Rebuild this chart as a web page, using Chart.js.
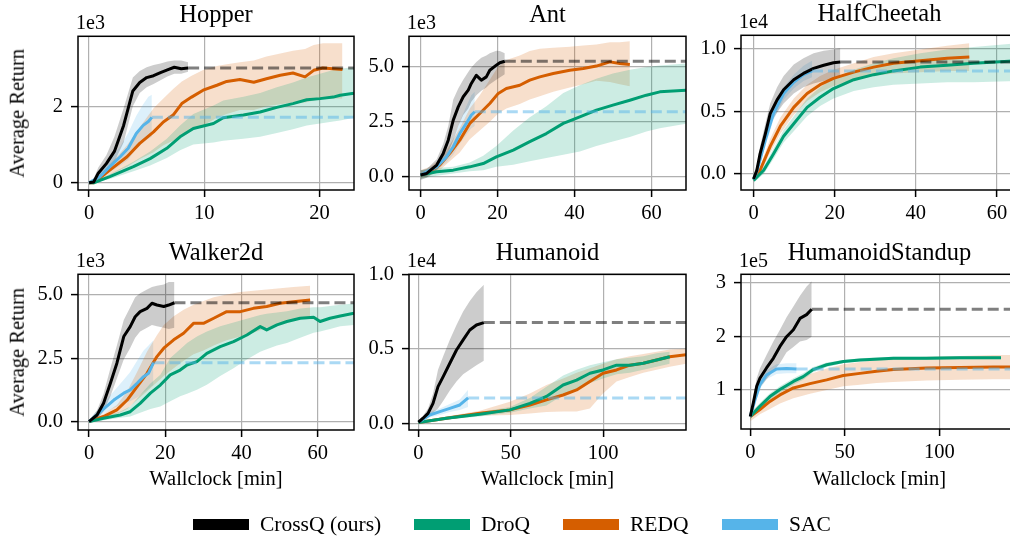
<!DOCTYPE html>
<html>
<head>
<meta charset="utf-8">
<script src="https://cdn.jsdelivr.net/npm/chart.js@4.4.1/dist/chart.umd.min.js"></script>
<style>
  html, body { margin: 0; padding: 0; background: #fff; }
  body { width: 1010px; height: 537px; position: relative; overflow: hidden;
         font-family: 'Liberation Serif', 'Times New Roman', serif; color: #000; }
  .txt { position: absolute; white-space: nowrap; line-height: 1; }
  .patch { position: absolute; width: 56px; height: 11px; }
</style>
</head>
<body>
<script>
// rows: [wallclock min, mean, lower, upper]  (y in the units shown by the offset label)
const hopperCrossQ = [[0,0,0,0.05],[0.4,0.02,0,0.1],[0.8,0.25,0.12,0.4],[1.5,0.5,0.32,0.72],[2.2,0.82,0.55,1.2],[3.0,1.5,1.05,1.95],[3.8,2.4,2.0,2.75],[4.4,2.62,2.35,2.92],[5.0,2.75,2.5,3.02],[5.6,2.8,2.58,3.08],[6.2,2.88,2.68,3.12],[6.8,2.95,2.78,3.17],[7.4,3.02,2.85,3.2],[8.0,2.98,2.85,3.2],[8.6,3.0,2.9,3.15]];
const hopperDroQ = [[0,0,0,0],[0.4,0,0,0.02],[1.8,0.16,0.1,0.22],[3.85,0.42,0.3,0.55],[5.3,0.63,0.45,0.82],[6.75,0.9,0.65,1.15],[7.9,1.2,0.85,1.5],[9.05,1.42,1.0,1.8],[10.8,1.55,1.05,2.02],[11.65,1.7,1.1,2.15],[13.4,1.77,1.15,2.25],[14.85,1.85,1.2,2.35],[16.3,1.97,1.3,2.5],[17.7,2.07,1.4,2.62],[18.9,2.17,1.5,2.75],[20.05,2.2,1.55,2.85],[21.2,2.24,1.6,2.95],[21.8,2.29,1.63,2.98],[23.0,2.34,1.7,3.03]];
const hopperREDQ = [[0,0,0,0],[0.4,0,0,0.02],[1.8,0.33,0.2,0.48],[3.3,0.68,0.42,0.98],[4.4,1.03,0.62,1.45],[5.6,1.33,0.8,1.95],[6.45,1.59,0.98,2.2],[7.3,1.77,1.1,2.45],[8.05,2.07,1.25,2.65],[8.9,2.24,1.35,2.8],[9.9,2.42,1.5,2.95],[11.1,2.55,1.7,3.05],[11.95,2.65,1.8,3.1],[13.1,2.7,1.9,3.15],[14.3,2.63,1.9,3.2],[15.4,2.72,2.0,3.3],[16.6,2.81,2.05,3.38],[17.7,2.87,2.1,3.45],[18.75,2.77,2.1,3.5],[19.5,2.94,2.15,3.6],[20.3,3.0,2.2,3.65],[22.0,2.96,2.2,3.65]];
const hopperSAC = [[0,0,0,0],[0.95,0.16,0.08,0.25],[1.8,0.42,0.28,0.6],[2.7,0.68,0.45,0.95],[3.4,0.9,0.6,1.3],[4.1,1.29,0.9,1.75],[4.7,1.5,1.05,2.05],[5.15,1.6,1.15,2.25],[5.45,1.71,1.2,2.3]];

const antCrossQ = [[0,0.08,-0.15,0.3],[1.6,0.15,-0.05,0.35],[4.2,0.53,0.3,0.8],[5.9,1.06,0.65,1.5],[7.2,1.66,1.1,2.3],[8.5,2.57,1.66,3.5],[9.8,3.17,2.3,4.0],[11.1,3.63,2.8,4.4],[12.4,3.93,3.1,4.75],[13.2,4.23,3.4,4.95],[14.5,4.6,3.7,5.2],[15.8,4.38,3.9,5.4],[17.1,4.53,4.05,5.5],[18.0,4.83,4.2,5.6],[19.7,5.06,4.4,5.72],[20.6,5.17,4.5,5.7],[21.9,5.24,4.65,5.6]];
const antDroQ = [[0,0.08,-0.1,0.3],[4.2,0.23,0.05,0.4],[8.5,0.3,0.15,0.45],[12.8,0.45,0.25,0.65],[16.3,0.6,0.3,0.95],[19.7,0.9,0.45,1.4],[24.1,1.21,0.55,2.1],[28.4,1.59,0.7,2.7],[32.7,1.96,0.85,3.2],[37.1,2.42,1.0,3.8],[41.4,2.72,1.15,4.15],[45.7,3.02,1.4,4.45],[50.0,3.25,1.6,4.68],[54.4,3.47,1.8,4.85],[58.7,3.7,2.05,4.98],[62.2,3.85,2.2,5.05],[69.0,3.92,2.4,5.14]];
const antREDQ = [[0,0.08,-0.1,0.3],[2.4,0.23,0.05,0.45],[5.0,0.53,0.3,0.8],[7.6,1.06,0.7,1.45],[10.2,1.66,1.1,2.2],[12.8,2.42,1.7,3.1],[15.4,2.87,2.1,3.7],[18.0,3.32,2.5,4.4],[20.2,3.78,2.87,5.0],[22.3,4.0,3.1,5.3],[25.8,4.15,3.3,5.5],[28.4,4.38,3.5,5.7],[31.0,4.53,3.65,5.8],[34.5,4.68,3.85,5.85],[38.8,4.83,4.05,5.9],[42.3,4.91,4.2,5.95],[45.7,5.02,4.35,6.0],[49.2,5.21,4.3,6.1],[51.8,5.14,4.2,6.1],[54.4,5.09,4.1,6.15]];
const antSAC = [[0,0.08,-0.1,0.25],[4.2,0.45,0.3,0.6],[6.75,0.9,0.65,1.15],[8.5,1.36,1.0,1.7],[10.2,1.96,1.5,2.5],[11.9,2.42,1.9,3.2],[13.2,2.8,2.2,3.7],[14.1,2.95,2.3,3.85]];

const cheetahCrossQ = [[0,-0.04,-0.06,-0.02],[0.8,0.03,0.0,0.07],[1.6,0.16,0.1,0.22],[2.9,0.32,0.24,0.4],[4.1,0.48,0.4,0.56],[5.8,0.59,0.49,0.69],[7.4,0.67,0.56,0.78],[9.9,0.75,0.64,0.87],[12.3,0.8,0.69,0.92],[14.8,0.84,0.72,0.96],[17.3,0.865,0.74,0.98],[19.7,0.885,0.76,0.99],[21.4,0.89,0.77,1.0]];
const cheetahDroQ = [[0,-0.05,-0.07,-0.03],[2.5,0.03,0.0,0.06],[4.9,0.16,0.12,0.2],[7.4,0.3,0.25,0.35],[9.9,0.4,0.34,0.46],[13.2,0.53,0.46,0.6],[16.4,0.61,0.54,0.69],[19.7,0.68,0.6,0.76],[24.7,0.75,0.66,0.83],[29.6,0.79,0.69,0.88],[34.5,0.82,0.71,0.92],[41.1,0.85,0.72,0.96],[47.7,0.865,0.73,0.99],[54.3,0.88,0.73,1.01],[65.0,0.9,0.74,1.04]];
const cheetahREDQ = [[0,-0.04,-0.06,-0.02],[1.6,0.03,0.0,0.06],[4.1,0.22,0.17,0.28],[6.6,0.38,0.32,0.45],[9.9,0.53,0.47,0.6],[13.2,0.64,0.58,0.71],[16.4,0.71,0.65,0.78],[19.7,0.76,0.7,0.83],[24.7,0.81,0.75,0.88],[29.6,0.85,0.78,0.93],[34.5,0.88,0.8,0.96],[41.1,0.9,0.81,0.99],[47.7,0.92,0.82,1.02],[53.2,0.93,0.82,1.04]];
const cheetahSAC = [[0,-0.04,-0.06,-0.02],[0.8,0.02,0.0,0.05],[2.9,0.27,0.22,0.32],[4.9,0.48,0.43,0.53],[7.4,0.64,0.59,0.69],[9.9,0.73,0.68,0.79],[12.3,0.79,0.74,0.86],[14.4,0.82,0.77,0.9]];

const walkerCrossQ = [[0,0,-0.05,0.05],[2.1,0.26,0.1,0.45],[3.8,0.72,0.4,1.1],[5.6,1.51,1.0,2.1],[7.3,2.3,1.7,3.0],[9.1,3.35,2.45,4.0],[10.8,3.74,2.9,4.5],[12.1,4.13,3.3,4.9],[13.4,4.33,3.55,5.05],[15.2,4.46,3.7,5.2],[16.5,4.66,3.8,5.3],[17.8,4.59,3.75,5.35],[19.6,4.53,3.7,5.4],[20.9,4.59,3.65,5.5],[22.4,4.68,3.7,5.5]];
const walkerDroQ = [[0,0,-0.05,0.05],[3.8,0.13,0.05,0.2],[8.2,0.26,0.15,0.4],[10.8,0.39,0.2,0.6],[13.4,0.72,0.35,1.05],[16.1,1.12,0.5,1.5],[18.7,1.44,0.6,1.85],[21.3,1.84,0.8,2.5],[23.9,2.03,1.0,2.85],[25.7,2.23,1.1,3.1],[28.3,2.36,1.25,3.35],[30.9,2.69,1.45,3.55],[34.4,2.95,1.8,3.75],[37.9,3.15,2.1,3.9],[41.4,3.41,2.45,4.05],[44.9,3.74,2.75,4.2],[46.6,3.61,2.85,4.25],[49.3,3.81,3.0,4.3],[51.9,3.94,3.1,4.35],[55.4,4.07,3.3,4.45],[58.9,4.11,3.5,4.5],[60.6,3.94,3.55,4.5],[63.2,4.07,3.65,4.55],[65.9,4.16,3.75,4.6],[69.5,4.27,3.8,4.65]];
const walkerREDQ = [[0,0,-0.05,0.05],[3.8,0.2,0.1,0.3],[7.3,0.46,0.3,0.65],[10.0,0.85,0.5,1.2],[12.6,1.38,0.85,1.95],[15.2,1.9,1.2,2.75],[17.8,2.56,1.55,3.4],[19.6,2.89,1.8,3.8],[22.2,3.22,2.1,4.15],[24.8,3.48,2.4,4.4],[27.4,3.87,2.65,4.6],[30.0,3.87,2.8,4.75],[32.7,4.07,3.0,4.9],[36.1,4.33,3.2,5.0],[39.7,4.33,3.35,5.1],[43.1,4.46,3.5,5.15],[46.6,4.53,3.7,5.2],[50.1,4.66,3.85,5.25],[53.6,4.72,4.0,5.3],[58.0,4.79,4.15,5.35]];
const walkerSAC = [[0,0,-0.05,0.05],[3.0,0.39,0.25,0.6],[6.5,0.85,0.55,1.2],[9.1,1.12,0.7,1.65],[10.8,1.25,0.8,1.95],[12.6,1.51,0.95,2.4],[14.3,1.77,1.15,2.8],[15.6,1.9,1.3,3.0],[16.9,2.32,1.45,3.2]];

const humanoidCrossQ = [[0,0.007,0.0,0.015],[2.5,0.034,0.02,0.05],[5.2,0.067,0.04,0.1],[7.9,0.134,0.07,0.2],[10.6,0.246,0.1,0.36],[13.4,0.313,0.15,0.45],[17.0,0.403,0.22,0.56],[20.6,0.492,0.28,0.66],[24.2,0.56,0.33,0.75],[27.8,0.626,0.36,0.82],[31.4,0.66,0.39,0.88],[35.4,0.676,0.42,0.93]];
const humanoidDroQ = [[0,0.005,0.0,0.01],[15.2,0.034,0.025,0.045],[33.2,0.06,0.045,0.075],[49.5,0.09,0.07,0.11],[60.3,0.134,0.1,0.17],[69.3,0.18,0.12,0.246],[78.3,0.257,0.19,0.32],[85.6,0.29,0.23,0.36],[92.8,0.336,0.27,0.39],[99.9,0.358,0.3,0.41],[107.2,0.39,0.33,0.43],[114.4,0.39,0.34,0.44],[121.7,0.403,0.36,0.45],[128.9,0.425,0.38,0.47],[136.0,0.447,0.4,0.48]];
const humanoidREDQ = [[0,0.005,0.0,0.01],[15.2,0.034,0.025,0.045],[33.2,0.067,0.05,0.085],[49.5,0.09,0.056,0.145],[60.3,0.123,0.065,0.2],[69.3,0.157,0.075,0.257],[78.3,0.19,0.08,0.3],[85.6,0.224,0.08,0.34],[92.8,0.28,0.1,0.37],[99.9,0.336,0.2,0.4],[107.2,0.358,0.28,0.43],[114.4,0.39,0.31,0.45],[121.7,0.403,0.34,0.465],[128.9,0.425,0.36,0.48],[136.0,0.447,0.38,0.495],[144.8,0.46,0.4,0.5]];
const humanoidSAC = [[0,0.007,0.0,0.015],[6.1,0.056,0.04,0.075],[11.6,0.078,0.055,0.1],[17.0,0.1,0.075,0.13],[22.4,0.123,0.09,0.16],[26.9,0.17,0.11,0.225]];

const standupCrossQ = [[0,0.51,0.45,0.57],[1.6,0.76,0.65,0.87],[3.4,1.07,0.9,1.22],[5.1,1.22,1.05,1.4],[8.6,1.41,1.2,1.65],[12.2,1.59,1.35,1.9],[15.7,1.81,1.5,2.12],[19.2,1.99,1.7,2.35],[22.8,2.12,1.8,2.55],[26.3,2.33,1.9,2.75],[29.8,2.4,1.93,2.92],[32.5,2.5,1.99,3.02]];
const standupDroQ = [[0,0.51,0.46,0.56],[5.1,0.7,0.64,0.76],[10.4,0.88,0.82,0.94],[15.7,1.01,0.95,1.07],[22.8,1.16,1.1,1.22],[28.0,1.25,1.19,1.31],[33.3,1.38,1.33,1.43],[40.4,1.47,1.43,1.51],[49.2,1.53,1.5,1.56],[58.0,1.56,1.53,1.59],[75.7,1.59,1.56,1.62],[93.3,1.59,1.56,1.62],[110.9,1.6,1.57,1.63],[132.6,1.6,1.57,1.63]];
const standupREDQ = [[0,0.51,0.42,0.6],[5.1,0.64,0.55,0.74],[10.4,0.79,0.65,0.92],[15.7,0.91,0.75,1.05],[22.8,1.04,0.85,1.17],[31.6,1.12,0.93,1.3],[40.4,1.19,1.0,1.4],[49.2,1.27,1.07,1.48],[58.0,1.31,1.1,1.52],[66.8,1.35,1.13,1.56],[75.7,1.38,1.15,1.6],[93.3,1.41,1.18,1.62],[110.9,1.42,1.19,1.63],[128.6,1.43,1.2,1.65],[141.6,1.43,1.2,1.65]];
const standupSAC = [[0,0.51,0.47,0.55],[2.5,0.82,0.75,0.89],[5.1,1.1,1.02,1.18],[8.6,1.28,1.2,1.37],[13.9,1.39,1.3,1.48],[19.2,1.4,1.31,1.5],[24.5,1.39,1.31,1.5]];

// tick values per panel
const hopperXTicks = [0, 10, 20],   hopperYTicks = [0, 2];
const antXTicks = [0, 20, 40, 60],  antYTicks = [0, 2.5, 5];
const cheetahXTicks = [0, 20, 40, 60], cheetahYTicks = [0, 0.5, 1];
const walkerXTicks = [0, 20, 40, 60],  walkerYTicks = [0, 2.5, 5];
const humanoidXTicks = [0, 50, 100],   humanoidYTicks = [0, 0.5, 1];
const standupXTicks = [0, 50, 100],    standupYTicks = [1, 2, 3];

const algoNames = ['CrossQ (ours)', 'DroQ', 'REDQ', 'SAC'];
const algoColors = ['#000000', '#009E73', '#D55E00', '#56B4E9'];

// layout: plot box [left, top, right, bottom] in page px, axis limits
const panels = [
  { title: 'Hopper', unit: '1e3', box: [78, 36, 354, 190], xlim: [-0.96, 23.0], ylim: [-0.19, 3.83], dec: 0,
    xt: hopperXTicks, yt: hopperYTicks, series: [hopperCrossQ, hopperDroQ, hopperREDQ, hopperSAC], ylabel: true, xlabel: false },
  { title: 'Ant', unit: '1e3', box: [409, 36, 686, 190], xlim: [-3.0, 69.0], ylim: [-0.60, 6.37], dec: 1,
    xt: antXTicks, yt: antYTicks, series: [antCrossQ, antDroQ, antREDQ, antSAC], ylabel: false, xlabel: false },
  { title: 'HalfCheetah', unit: '1e4', box: [741, 35, 1018, 190], xlim: [-3.1, 65.2], ylim: [-0.127, 1.103], dec: 1,
    xt: cheetahXTicks, yt: cheetahYTicks, series: [cheetahCrossQ, cheetahDroQ, cheetahREDQ, cheetahSAC], ylabel: false, xlabel: false },
  { title: 'Walker2d', unit: '1e3', box: [78, 274, 354, 430], xlim: [-2.9, 69.5], ylim: [-0.33, 5.80], dec: 1,
    xt: walkerXTicks, yt: walkerYTicks, series: [walkerCrossQ, walkerDroQ, walkerREDQ, walkerSAC], ylabel: true, xlabel: true },
  { title: 'Humanoid', unit: '1e4', box: [409, 274, 686, 430], xlim: [-5.1, 144.8], ylim: [-0.045, 1.0], dec: 1,
    xt: humanoidXTicks, yt: humanoidYTicks, series: [humanoidCrossQ, humanoidDroQ, humanoidREDQ, humanoidSAC], ylabel: false, xlabel: true },
  { title: 'HumanoidStandup', unit: '1e5', box: [741, 274, 1018, 429], xlim: [-4.9, 141.6], ylim: [0.278, 3.148], dec: 0,
    xt: standupXTicks, yt: standupYTicks, series: [standupCrossQ, standupDroQ, standupREDQ, standupSAC], ylabel: false, xlabel: true }
];

const PAD_L = 70, PAD_T = 20, PAD_R = 20, PAD_B = 45;
const tickFont = { family: "'Liberation Serif', 'Times New Roman', serif", size: 20.5 };

function rgba(hex, a) {
  const n = parseInt(hex.slice(1), 16);
  return `rgba(${n >> 16},${(n >> 8) & 255},${n & 255},${a})`;
}

function addText(str, left, top, size, css) {
  const d = document.createElement('div');
  d.className = 'txt';
  d.textContent = str;
  d.style.cssText += `left:${left}px;top:${top}px;font-size:${size}px;` + (css || '');
  document.body.appendChild(d);
  return d;
}

// matplotlib-like spines on all four sides
const spines = {
  id: 'spines',
  afterDraw(chart) {
    const { ctx, chartArea: a } = chart;
    ctx.save();
    ctx.strokeStyle = '#000';
    ctx.lineWidth = 1.5;
    ctx.strokeRect(a.left, a.top, a.right - a.left, a.bottom - a.top);
    ctx.restore();
  }
};

panels.forEach(p => {
  const [L, T, R, B] = p.box;
  const w = R - L + PAD_L + PAD_R, h = B - T + PAD_T + PAD_B;
  const cv = document.createElement('canvas');
  cv.width = w; cv.height = h;
  cv.style.cssText = `position:absolute;left:${L - PAD_L}px;top:${T - PAD_T}px;width:${w}px;height:${h}px;`;
  document.body.appendChild(cv);

  const bands = [], lines = [], dashes = [];
  const lineOrder = [1, 3, 4, 2]; // CrossQ on top, then SAC, DroQ, REDQ
  p.series.forEach((rows, i) => {
    const col = algoColors[i];
    bands.push({ data: rows.map(r => ({ x: r[0], y: r[2] })), borderWidth: 0, pointRadius: 0, fill: false, order: 10 });
    bands.push({ data: rows.map(r => ({ x: r[0], y: r[3] })), borderWidth: 0, pointRadius: 0,
                 fill: '-1', backgroundColor: rgba(col, 0.2), order: 10 });
    lines.push({ data: rows.map(r => ({ x: r[0], y: r[1] })), borderColor: col, borderWidth: 3,
                 pointRadius: 0, fill: false, borderJoinStyle: 'round', order: lineOrder[i] });
    // CrossQ and SAC finish early: their final value is carried on as a dashed line
    if (i === 0 || i === 3) {
      const last = rows[rows.length - 1];
      dashes.push({ data: [{ x: last[0], y: last[1] }, { x: p.xlim[1], y: last[1] }],
                    borderColor: rgba(col, 0.5), borderWidth: 3, borderDash: [11, 5], pointRadius: 0,
                    fill: false, order: 0 });
    }
  });

  new Chart(cv, {
    type: 'line',
    data: { datasets: [...bands, ...lines, ...dashes] },
    options: {
      responsive: false,
      animation: false,
      layout: { padding: { left: 0, top: PAD_T, right: PAD_R, bottom: 0 } },
      plugins: { legend: { display: false }, tooltip: { enabled: false } },
      elements: { line: { tension: 0 } },
      scales: {
        x: {
          type: 'linear', min: p.xlim[0], max: p.xlim[1],
          afterBuildTicks: s => { s.ticks = p.xt.map(v => ({ value: v })); },
          afterFit: s => { s.height = PAD_B; },
          ticks: { font: tickFont, color: '#000', padding: 4, maxRotation: 0, autoSkip: false, callback: v => String(v) },
          grid: { color: '#b0b0b0', lineWidth: 1.2, tickColor: '#000', tickLength: 7, tickWidth: 1.5 },
          border: { display: false }
        },
        y: {
          type: 'linear', min: p.ylim[0], max: p.ylim[1],
          afterBuildTicks: s => { s.ticks = p.yt.map(v => ({ value: v })); },
          afterFit: s => { s.width = PAD_L; },
          ticks: { font: tickFont, color: '#000', padding: 8, autoSkip: false, callback: v => v.toFixed(p.dec) },
          grid: { color: '#b0b0b0', lineWidth: 1.2, tickColor: '#000', tickLength: 7, tickWidth: 1.5 },
          border: { display: false }
        }
      }
    },
    plugins: [spines]
  });

  // titles, offset text, axis labels
  const cx = (L + R) / 2;
  addText(p.title, cx, T - 13 - 0.8375 * 24.5, 24.5, 'transform:translateX(-50%);');
  addText(p.unit, L - 2, T - 7 - 0.8375 * 20, 20);
  if (p.ylabel) {
    addText('Average Return', 16.6, (T + B) / 2 - 10.25, 20.5, 'transform:translate(-50%,0) rotate(-90deg);');
  }
  if (p.xlabel) {
    addText('Wallclock [min]', cx, 485 - 0.8375 * 20.5, 20.5, 'transform:translateX(-50%);');
  }
});

// shared legend
const legendX = [193, 414, 563, 722];
algoNames.forEach((name, i) => {
  const pt = document.createElement('div');
  pt.className = 'patch';
  pt.style.left = legendX[i] + 'px';
  pt.style.top = '518.5px';
  pt.style.background = algoColors[i];
  document.body.appendChild(pt);
  addText(name, legendX[i] + 67, 532 - 0.8375 * 21.5, 21.5);
});
</script>
</body>
</html>
